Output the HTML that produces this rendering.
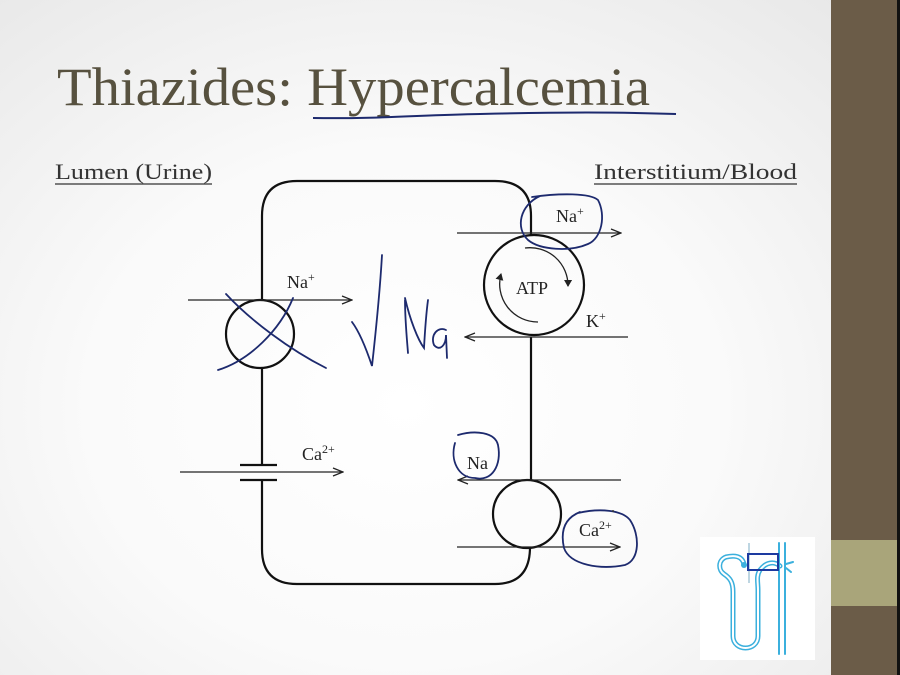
<!DOCTYPE html>
<html><head><style>
html,body{margin:0;padding:0;width:900px;height:675px;overflow:hidden;}
body{background:radial-gradient(ellipse at 45% 60%,#ffffff 0%,#fafafa 45%,#e6e6e6 100%);}
svg{position:absolute;left:0;top:0;}
</style></head><body>
<svg width="900" height="675" viewBox="0 0 900 675" xmlns="http://www.w3.org/2000/svg">
<defs>
<marker id="ah" markerWidth="12" markerHeight="10" refX="11" refY="5" orient="auto" markerUnits="userSpaceOnUse">
<path d="M1,1 L11,5 L1,9" fill="none" stroke="#222" stroke-width="1.3"/>
</marker>
<marker id="ah2" markerWidth="8" markerHeight="8" refX="6" refY="4" orient="auto" markerUnits="userSpaceOnUse">
<path d="M0,0 L7,4 L0,8 z" fill="#222"/>
</marker>
</defs>
<rect x="831" y="0" width="66" height="675" fill="#6b5c48"/>
<rect x="831" y="540" width="66" height="66" fill="#a9a57a"/>
<rect x="897" y="0" width="3" height="675" fill="#111"/>

<text x="57" y="105" font-family="Liberation Serif, serif" font-size="54" fill="#57513f" textLength="593" lengthAdjust="spacingAndGlyphs">Thiazides: Hypercalcemia</text>
<path d="M313,118 C380,119 420,115 480,114 C560,112 620,112 676,114" fill="none" stroke="#1d2a6e" stroke-width="2"/>

<text x="55" y="179" font-family="Liberation Serif, serif" font-size="22" fill="#333" textLength="157" lengthAdjust="spacingAndGlyphs">Lumen (Urine)</text>
<line x1="55" y1="184" x2="212" y2="184" stroke="#333" stroke-width="1.2"/>
<text x="594" y="179" font-family="Liberation Serif, serif" font-size="22" fill="#333" textLength="203" lengthAdjust="spacingAndGlyphs">Interstitium/Blood</text>
<line x1="594" y1="184" x2="797" y2="184" stroke="#333" stroke-width="1.2"/>

<g fill="none" stroke="#111" stroke-width="2.2">
<path d="M262,300 L262,216 Q262,181 297,181 L495,181 Q531,181 531,216 L531,235"/>
<line x1="531" y1="337" x2="531" y2="480"/>
<path d="M530,547 Q530,584 495,584 L297,584 Q262,584 262,549 L262,480"/>
<line x1="262" y1="368" x2="262" y2="465"/>
<circle cx="260" cy="334" r="34"/>
<circle cx="534" cy="285" r="50"/>
<circle cx="527" cy="514" r="34"/>
<line x1="240" y1="465" x2="277" y2="465"/>
<line x1="240" y1="480" x2="277" y2="480"/>
</g>
<g stroke="#222" stroke-width="1.3" fill="none">
<line x1="188" y1="300" x2="352" y2="300" marker-end="url(#ah)"/>
<line x1="180" y1="472" x2="343" y2="472" marker-end="url(#ah)"/>
<line x1="457" y1="233" x2="621" y2="233" marker-end="url(#ah)"/>
<line x1="628" y1="337" x2="465" y2="337" marker-end="url(#ah)"/>
<line x1="621" y1="480" x2="458" y2="480" marker-end="url(#ah)"/>
<line x1="457" y1="547" x2="620" y2="547" marker-end="url(#ah)"/>
<path d="M525,248 A38,38 0 0 1 568,286" marker-end="url(#ah2)"/>
<path d="M538,322 A38,38 0 0 1 501,274" marker-end="url(#ah2)"/>
</g>
<g font-family="Liberation Serif, serif" font-size="18" fill="#222">
<text x="287" y="288">Na<tspan font-size="12" dy="-7">+</tspan></text>
<text x="302" y="460">Ca<tspan font-size="12" dy="-7">2+</tspan></text>
<text x="556" y="222">Na<tspan font-size="12" dy="-7">+</tspan></text>
<text x="516" y="294">ATP</text>
<text x="586" y="327">K<tspan font-size="12" dy="-7">+</tspan></text>
<text x="467" y="469">Na</text>
<text x="579" y="536">Ca<tspan font-size="12" dy="-7">2+</tspan></text>
</g>
<g fill="none" stroke="#1d2a6e" stroke-width="1.8" stroke-linecap="round">
<path d="M226,294 C250,320 290,350 326,368"/>
<path d="M293,298 C280,330 250,360 218,370"/>
<path d="M382,255 C380,290 376,330 372,366 C365,345 358,330 352,322"/>
<path d="M405,300 C405,320 407,340 408,353 M405,298 C410,320 418,340 424,348 C425,330 426,315 428,300 M446,330 C438,326 430,335 434,345 C440,352 446,345 446,335 L447,358"/>
<path d="M532,197 C560,193 590,193 598,200 C606,215 602,238 588,244 C570,252 540,250 528,240 C515,228 520,205 540,196"/>
<path d="M458,435 C475,430 495,432 498,445 C502,465 492,482 475,478 C458,478 450,460 455,443"/>
<path d="M578,513 C600,508 622,510 630,520 C640,535 640,560 625,565 C600,570 570,565 564,548 C560,530 565,518 580,512"/>
</g>
<circle cx="613" cy="511" r="1" fill="#333"/>

<rect x="700" y="537" width="115" height="123" fill="#ffffff"/>
<line x1="749" y1="543" x2="749" y2="583" stroke="#a8c8d8" stroke-width="1.5"/>
<g fill="none" stroke-linecap="round" stroke-linejoin="round">
<path id="neph" d="M744,564 C742,556 735,555 726,557 C718,560 718,570 724,574 C730,578 733,582 733,592 L733,636 C733,652 758,652 758,636 L758,590 C758,582 756,576 760,570 C766,562 774,561 780,566" stroke="#3bb0dd" stroke-width="5"/>
<path d="M744,564 C742,556 735,555 726,557 C718,560 718,570 724,574 C730,578 733,582 733,592 L733,636 C733,652 758,652 758,636 L758,590 C758,582 756,576 760,570 C766,562 774,561 780,566" stroke="#ffffff" stroke-width="2"/>
<line x1="779" y1="543" x2="779" y2="654" stroke="#3bb0dd" stroke-width="2"/>
<line x1="785" y1="543" x2="785" y2="654" stroke="#3bb0dd" stroke-width="2"/>
<path d="M786,564 L793,562 M786,568 L791,572" stroke="#3bb0dd" stroke-width="2"/>
</g>
<circle cx="744" cy="565" r="3" fill="#3bb0dd"/>
<rect x="748" y="554" width="30" height="16" fill="none" stroke="#1d3aa0" stroke-width="2"/>
</svg>
</body></html>
